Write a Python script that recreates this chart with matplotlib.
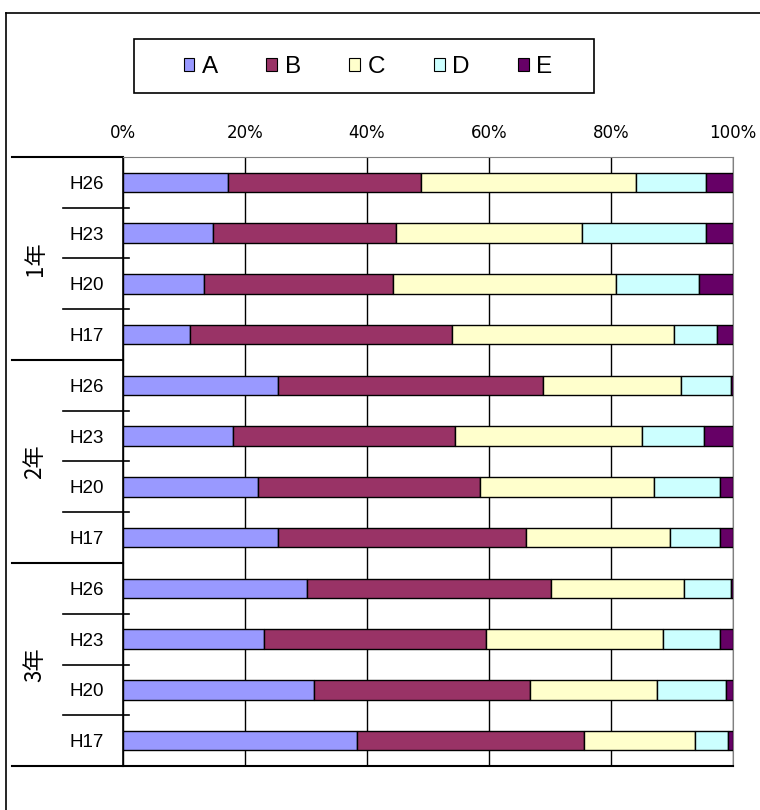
import numpy as np
import matplotlib
matplotlib.use('Agg')
import matplotlib.pyplot as plt
from matplotlib.lines import Line2D
from matplotlib.patches import Patch, Rectangle
from matplotlib.transforms import blended_transform_factory

# Share of answers (%) by grade and survey year, top to bottom
grades = ['1年', '2年', '3年']
years = ['H26', 'H23', 'H20', 'H17']
categories = ['A', 'B', 'C', 'D', 'E']
share_a = [17.2, 14.8, 13.3, 11.0, 25.4, 18.0, 22.2, 25.4, 30.1, 23.1, 31.3, 38.3]
share_b = [31.7, 30.0, 30.9, 42.9, 43.5, 36.5, 36.4, 40.6, 40.0, 36.4, 35.5, 37.3]
share_c = [35.2, 30.5, 36.7, 36.4, 22.6, 30.5, 28.4, 23.7, 21.9, 29.1, 20.8, 18.2]
share_d = [11.4, 20.2, 13.5, 7.0, 8.2, 10.2, 10.9, 8.2, 7.7, 9.3, 11.2, 5.3]
share_e = [4.5, 4.5, 5.6, 2.7, 0.3, 4.8, 2.1, 2.1, 0.3, 2.1, 1.2, 0.9]
colors = ['#9999FF', '#993366', '#FFFFCC', '#CCFFFF', '#660066']

series = np.array([share_a, share_b, share_c, share_d, share_e])
series = series / series.sum(axis=0) * 100  # normalise each row to 100%

W, H = 760, 810
fig = plt.figure(figsize=(W / 100, H / 100), dpi=100)
ax = fig.add_axes([123 / W, 1 - 766 / H, 610 / W, 609 / H])

n_rows = series.shape[1]
y = np.arange(n_rows) + 0.5
left = np.zeros(n_rows)
for vals, col, name in zip(series, colors, categories):
    ax.barh(y, vals, left=left, height=0.38, color=col, edgecolor='black',
            linewidth=1.0, label=name, zorder=3)
    left += vals

ax.set_xlim(0, 100)
ax.set_ylim(n_rows, 0)
ax.xaxis.tick_top()
ax.set_xticks(np.arange(0, 101, 20))
ax.set_xticklabels([f'{t}%' for t in range(0, 101, 20)],
                   family=['Liberation Sans Narrow', 'DejaVu Sans'], fontsize=12)
ax.tick_params(axis='x', length=0, pad=11)
ax.grid(axis='x', color='black', linewidth=1.0, zorder=0)

ax.set_yticks(y)
ax.set_yticklabels(years * len(grades), family='Liberation Sans', fontsize=13.5)
ax.tick_params(axis='y', length=0, pad=14)

for side in ['top', 'right']:
    ax.spines[side].set_color('#808080')
ax.spines['left'].set_color('black')
ax.spines['bottom'].set_color('black')
ax.spines['left'].set_linewidth(1.2)
ax.spines['bottom'].set_linewidth(1.5)

# multi-level category separators on the left
trans = blended_transform_factory(fig.transFigure, ax.transData)
for b in range(n_rows + 1):
    if b % len(years) == 0:
        ax.add_line(Line2D([12 / W, 123 / W], [b, b], transform=trans,
                           color='black', linewidth=1.5, clip_on=False))
    else:
        ax.add_line(Line2D([63 / W, 129 / W], [b, b], transform=trans,
                           color='black', linewidth=1.2, clip_on=False))

for g, name in enumerate(grades):
    ax.text(35 / W, g * len(years) + len(years) / 2, name, transform=trans,
            rotation=90, ha='center', va='center', fontsize=16,
            family=['Noto Sans CJK JP', 'DejaVu Sans'])

# legend box
fig.add_artist(Rectangle((134 / W, 1 - 93 / H), 460 / W, 54 / H,
                         transform=fig.transFigure, facecolor='white',
                         edgecolor='black', linewidth=1.2))
handles = [Patch(facecolor=c, edgecolor='black', linewidth=0.8) for c in colors]
fig.legend(handles, categories, loc='center', bbox_to_anchor=(368 / W, 1 - 67 / H),
           ncol=5, frameon=False, handlelength=0.45, handleheight=0.45,
           handletextpad=0.3, columnspacing=2.0,
           prop={'family': 'Liberation Sans', 'size': 17.5})

# outer chart frame
fig.add_artist(Line2D([6 / W, 6 / W], [0, 1 - 13 / H], transform=fig.transFigure,
                      color='black', linewidth=1.2))
fig.add_artist(Line2D([6 / W, 1], [1 - 13 / H, 1 - 13 / H], transform=fig.transFigure,
                      color='black', linewidth=1.2))

fig.savefig('out.png', dpi=100)
